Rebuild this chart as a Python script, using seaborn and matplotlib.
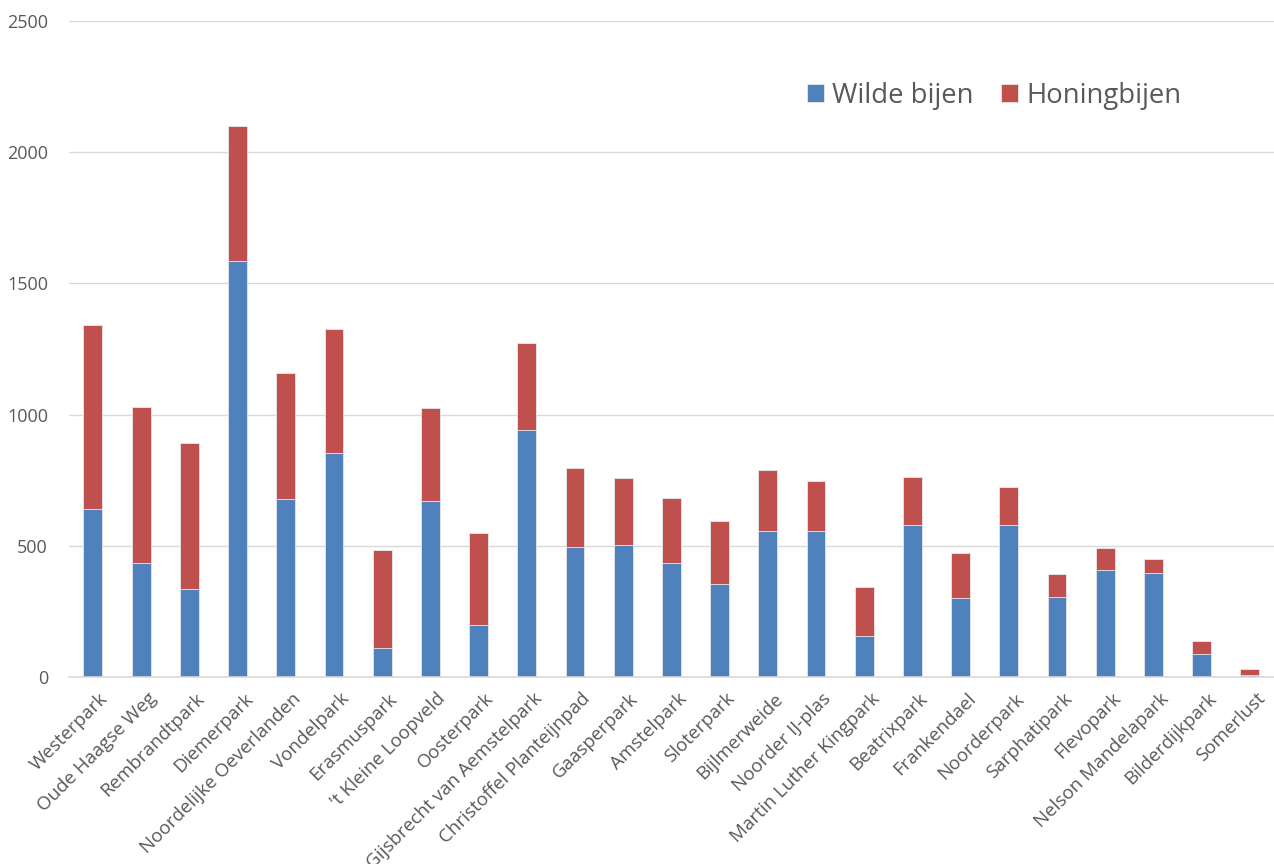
import matplotlib
matplotlib.use('Agg')
import matplotlib.pyplot as plt
import matplotlib.transforms as mtransforms
import seaborn as sns
import numpy as np

parks = ['Westerpark', 'Oude Haagse Weg', 'Rembrandtpark', 'Diemerpark',
         'Noordelijke Oeverlanden', 'Vondelpark', 'Erasmuspark', "'t Kleine Loopveld",
         'Oosterpark', 'Gijsbrecht van Aemstelpark', 'Christoffel Planteijnpad',
         'Gaasperpark', 'Amstelpark', 'Sloterpark', 'Bijlmerweide', 'Noorder IJ-plas',
         'Martin Luther Kingpark', 'Beatrixpark', 'Frankendael', 'Noorderpark',
         'Sarphatipark', 'Flevopark', 'Nelson Mandelapark', 'Bilderdijkpark', 'Somerlust']
wilde = [640, 434, 335, 1585, 678, 854, 110, 671, 198, 941, 495, 503, 434, 354,
         556, 556, 156, 579, 301, 579, 305, 408, 396, 88, 8]
honing = [701, 595, 557, 515, 481, 472, 374, 354, 351, 332, 301, 255, 248, 241,
          233, 191, 187, 183, 172, 145, 88, 84, 54, 49, 22]

blue = '#4F81BD'
red = '#C0504D'
grey = '#595959'

sns.set_style('white')
plt.rcParams['font.family'] = ['Open Sans', 'DejaVu Sans']

fig = plt.figure(figsize=(12.74, 8.64), dpi=100)
ax = fig.add_axes([0.054, 0.2164, 0.946, 0.7593])

totaal = np.array(wilde) + np.array(honing)
sns.barplot(x=parks, y=totaal, color=red, width=0.39, saturation=1,
            edgecolor='#E8E8E8', linewidth=0.6, ax=ax, label='Honingbijen')
sns.barplot(x=parks, y=wilde, color=blue, width=0.39, saturation=1,
            edgecolor='#E8E8E8', linewidth=0.6, ax=ax, label='Wilde bijen')

ax.set_ylim(0, 2500)
ax.set_xlim(-0.5, 24.5)
ax.set_yticks(range(0, 2501, 500))
ax.yaxis.grid(True, color='#D9D9D9', linewidth=1)
ax.set_axisbelow(True)
for s in ['top', 'right', 'left']:
    ax.spines[s].set_visible(False)
ax.spines['bottom'].set_color('#D9D9D9')
ax.spines['bottom'].set_linewidth(1.2)
ax.tick_params(axis='y', length=0, colors=grey, labelsize=13, pad=15)
ax.tick_params(axis='x', length=0, colors=grey, labelsize=13.5, pad=9)
offset = mtransforms.ScaledTranslation(0.06, 0, fig.dpi_scale_trans)
for lab in ax.get_xticklabels():
    lab.set_rotation(45)
    lab.set_ha('right')
    lab.set_rotation_mode('anchor')
    lab.set_transform(lab.get_transform() + offset)
ax.set_xlabel('')
ax.set_ylabel('')

h, l = ax.get_legend_handles_labels()
order = [l.index('Wilde bijen'), l.index('Honingbijen')]
leg = ax.legend([h[i] for i in order], [l[i] for i in order], ncol=2, frameon=False,
                loc='upper left', bbox_to_anchor=(0.592, 0.945), fontsize=19.8,
                handlelength=0.62, handleheight=0.62, handletextpad=0.3, columnspacing=1.0)
for t in leg.get_texts():
    t.set_color(grey)

fig.savefig('out.png', dpi=100)
